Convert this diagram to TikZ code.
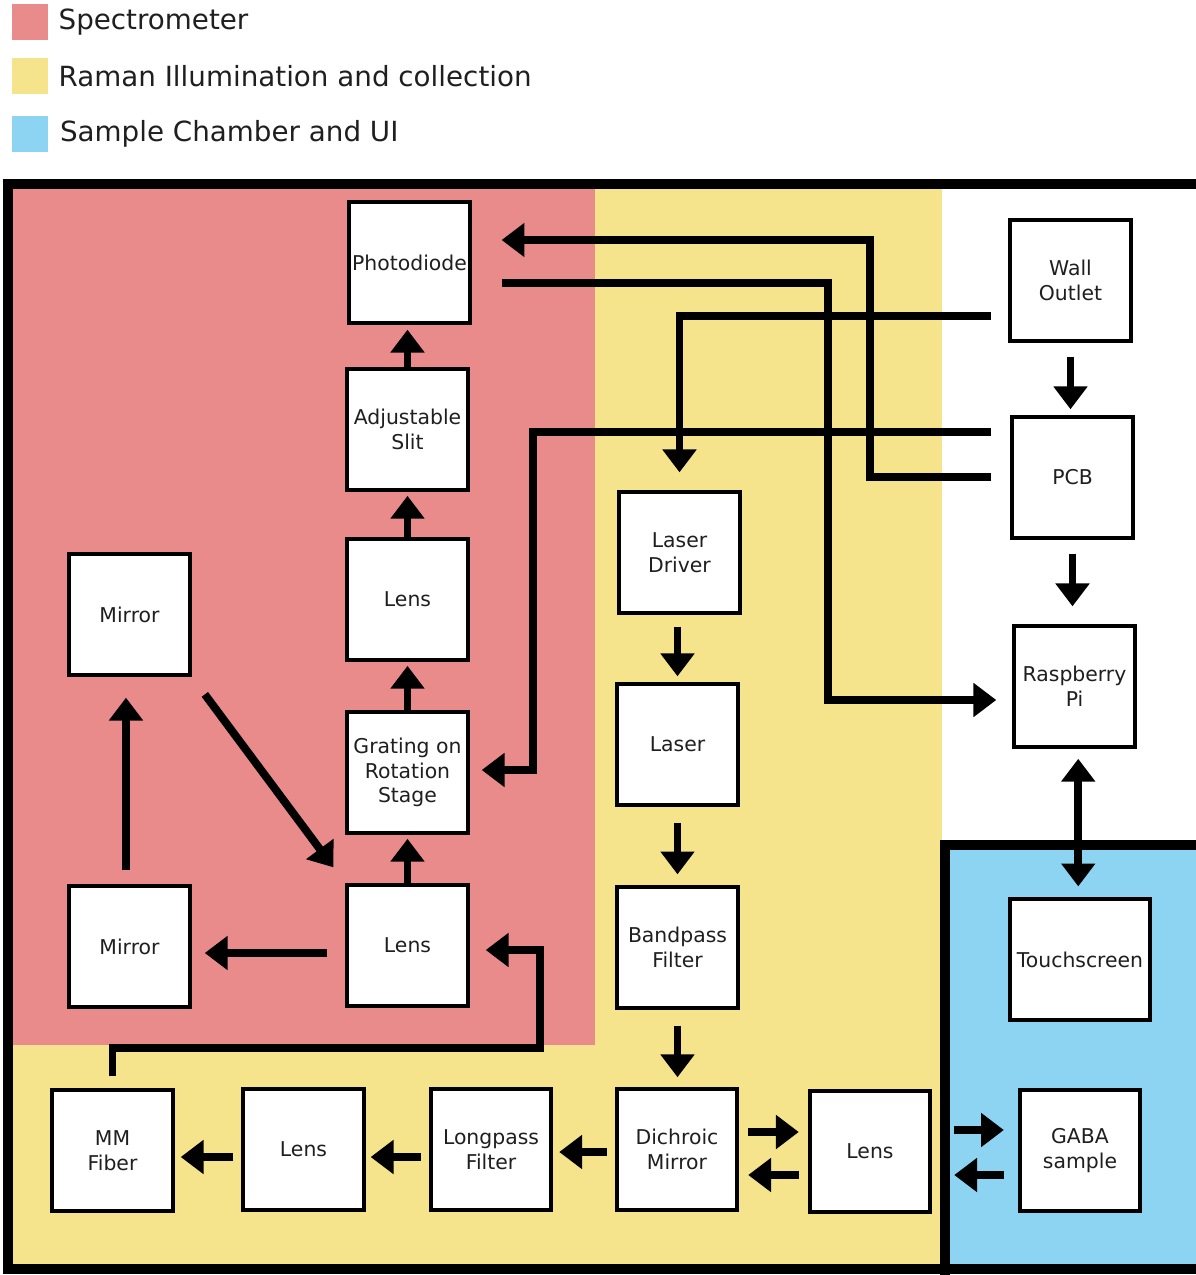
\documentclass[tikz,border=0pt]{standalone}
\usepackage{fontspec}
\setmainfont{DejaVu Sans}
\usepackage{xcolor}
\usetikzlibrary{arrows.meta,positioning}
\definecolor{specred}{RGB}{234,139,139}
\definecolor{ramanyel}{RGB}{245,228,140}
\definecolor{uiblue}{RGB}{141,212,242}

\begin{document}
\begin{tikzpicture}[x=0.02cm, y=-0.02cm, box/.style={draw, line width=2.27pt, fill=white, minimum width=68.6pt, minimum height=68.6pt, inner sep=1pt, align=center, text=black!88, font=\fontsize{11.6}{14}\selectfont}, arr/.style={line width=4.54pt, -{Triangle[length=13pt, width=18.7pt]}}, arrboth/.style={arr, {Triangle[length=13pt, width=18.7pt]}-{Triangle[length=13pt, width=18.7pt]}}, sq/.style={minimum size=20.4pt, inner sep=0pt}, leg/.style={inner sep=0pt, text=black!88, font=\fontsize{15.8}{18}\selectfont}]
\useasboundingbox (0,0) rectangle (1196,1275);
% regions
\fill[ramanyel] (10,184) rectangle (1205,1270);
\fill[specred] (10,184) rectangle (595,1045);
\fill[white] (942,184) rectangle (1205,845);
\fill[uiblue] (945,845) rectangle (1205,1270);
\draw[line width=6.2pt] (8,184) rectangle (1207,1269);
\draw[line width=5.7pt] (945,1275) -- (945,845) -- (1207,845);
% legend
\node[sq, fill=specred] (sqspec) at (30,22) {};
\node[leg, right=5.7pt of sqspec] (legspec) {Spectrometer};
\node[sq, fill=ramanyel] (sqraman) at (30,76) {};
\node[leg, right=5.7pt of sqraman] (legraman) {Raman Illumination and collection};
\node[sq, fill=uiblue] (squi) at (30,134) {};
\node[leg, right=6.5pt of squi] (legui) {Sample Chamber and UI};
% spectrometer
\node[box] (photo) at (409.5,262.5) {Photodiode};
\node[box] (slit) at (407.5,429.5) {Adjustable\\Slit};
\node[box] (lensa) at (407.5,599.5) {Lens};
\node[box] (grat) at (407.5,772.5) {Grating on\\Rotation\\Stage};
\node[box] (lensb) at (407.5,945.5) {Lens};
\node[box] (mirra) at (129.5,614.5) {Mirror};
\node[box] (mirrb) at (129.5,946.5) {Mirror};
% raman illumination and collection
\node[box] (drv) at (679.5,552.5) {Laser\\Driver};
\node[box] (laser) at (677.5,744.5) {Laser};
\node[box] (bpf) at (677.5,947.5) {Bandpass\\Filter};
\node[box] (dich) at (677,1149.5) {Dichroic\\Mirror};
\node[box] (lensc) at (870,1151.5) {Lens};
\node[box] (lpf) at (491,1149.5) {Longpass\\Filter};
\node[box] (lensd) at (303.5,1149.5) {Lens};
\node[box] (fiber) at (112.5,1150.5) {MM\\Fiber};
% power and control
\node[box] (wall) at (1070.5,280.5) {Wall\\Outlet};
\node[box] (pcb) at (1072.5,477.5) {PCB};
\node[box] (rpi) at (1074.5,686.5) {Raspberry\\Pi};
\node[box, minimum width=79.4pt] (touch) at (1080,959.5) {Touchscreen};
\node[box] (gaba) at (1080,1150.5) {GABA\\sample};
% light path in spectrometer
\draw[arr, shorten >=2.8pt] (slit.north) -- (slit.north |- photo.south);
\draw[arr, shorten >=2.3pt] (lensa.north) -- (slit.south);
\draw[arr, shorten >=2.3pt] (grat.north) -- (lensa.south);
\draw[arr, shorten >=2.3pt] (lensb.north) -- (grat.south);
\draw[arr, shorten <=7.9pt, shorten >=11.9pt] ([xshift=-2pt]mirrb.north) -- ([xshift=-2pt]mirra.south);
\draw[arr, shorten <=12.5pt, shorten >=11.3pt] (mirra.south east) -- (lensb.north west);
\draw[arr, shorten <=10.2pt, shorten >=7.4pt] (lensb.west |- 0,953) -- (mirrb.east |- 0,953);
\draw[arr, shorten <=6.8pt, shorten >=9.1pt] (fiber.north) |- (540,1048) |- (lensb.east |- 0,950);
% laser path
\draw[arr, shorten <=6.8pt, shorten >=3.4pt] (laser.north |- drv.south) -- (laser.north);
\draw[arr, shorten <=9.1pt, shorten >=6.2pt] (laser.south) -- (bpf.north);
\draw[arr, shorten <=9.1pt, shorten >=5.7pt] (bpf.south) -- (bpf.south |- dich.north);
\draw[arr, shorten <=4.5pt, shorten >=3.4pt] (dich.west |- 0,1152) -- (lpf.east |- 0,1152);
\draw[arr, shorten <=4.5pt, shorten >=2.8pt] (lpf.west |- 0,1157) -- (lensd.east |- 0,1157);
\draw[arr, shorten <=4.5pt, shorten >=3.4pt] (lensd.west |- 0,1157) -- (fiber.east |- 0,1157);
\draw[arr, shorten <=5.1pt, shorten >=5.1pt] (dich.east |- 0,1132) -- (lensc.west |- 0,1132);
\draw[arr, shorten <=5.1pt, shorten >=5.1pt] (lensc.west |- 0,1175) -- (dich.east |- 0,1175);
\draw[arr, shorten <=12.5pt, shorten >=7.9pt] (lensc.east |- 0,1130) -- (gaba.west |- 0,1130);
\draw[arr, shorten <=7.9pt, shorten >=12.5pt] (gaba.west |- 0,1175) -- (lensc.east |- 0,1175);
% power and control
\draw[arr, shorten <=7.9pt, shorten >=3.4pt] (wall.south) -- (wall.south |- pcb.north);
\draw[arr, shorten <=7.9pt, shorten >=10.2pt] (pcb.south) -- (pcb.south |- rpi.north);
\draw[arrboth, shorten <=5.7pt, shorten >=6.2pt] ([xshift=-1pt]touch.north |- rpi.south) -- ([xshift=-1pt]touch.north);
\draw[arr, shorten <=9.6pt, shorten >=10.2pt] (wall.west |- 0,316) -| (drv.north);
\draw[arr, shorten <=10.8pt, shorten >=6.8pt] (pcb.west |- 0,432) -- (533,432) |- (grat.east |- 0,770);
\draw[arr, shorten <=10.8pt, shorten >=17pt] (pcb.west |- 0,477) -- (870,477) |- (photo.east |- 0,240);
\draw[arr, shorten <=17pt, shorten >=9.1pt] (photo.east |- 0,283) -- (828,283) |- (rpi.west |- 0,700);
\end{tikzpicture}
\end{document}
